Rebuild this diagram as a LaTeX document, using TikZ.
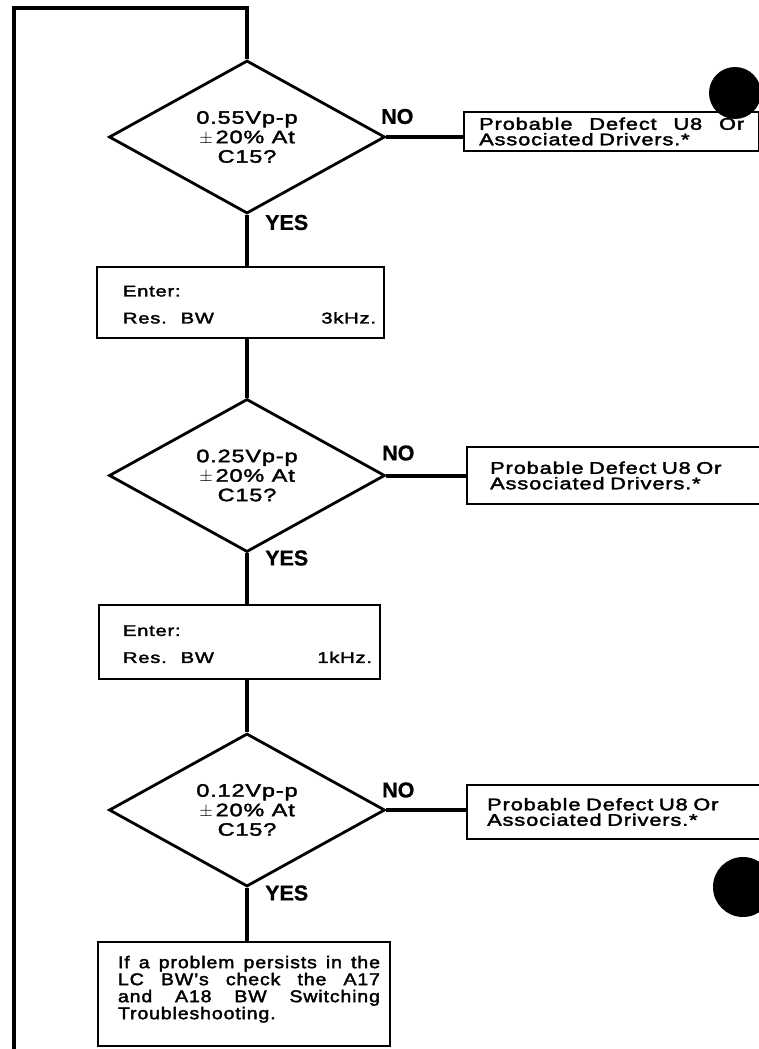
\documentclass[tikz,border=0pt]{standalone}
\usepackage{fontspec}
\setmainfont{Liberation Sans}[FakeStretch=1.3,LetterSpace=5,FakeBold=2.2]
\newfontfamily\finfont{Liberation Sans}[FakeStretch=1.15,LetterSpace=5,FakeBold=2.2]
\newfontfamily\lblfont{Liberation Sans}[FakeBold=0.8]
\usetikzlibrary{shapes.geometric}
\newcommand{\just}[2]{\hbox to #1{#2}}
\begin{document}
\begin{tikzpicture}[x=1pt,y=-1pt,
  flow/.style={line width=3.2pt},
  nolink/.style={line width=4pt},
  dec/.style={draw, diamond, line width=2.8pt, minimum width=276pt, minimum height=149pt,
    inner sep=0pt, align=center, font=\fontsize{18}{19.5}\selectfont},
  stepbox/.style={draw, rectangle, line width=2.4pt, inner sep=0pt, align=left,
    font=\fontsize{15.5}{17}\selectfont},
  outbox/.style={draw, rectangle, line width=2.4pt, anchor=west, align=left, inner ysep=0pt,
    font=\fontsize{16.8}{15.5}\selectfont},
  tag/.style={anchor=west, inner sep=0pt, font=\lblfont\bfseries\fontsize{21.5}{21.5}\selectfont},
  hole/.style={fill=black}
]
\useasboundingbox (0,0) rectangle (758,1049);
\fill[white] (0,0) rectangle (758,1049);

% decisions
\node[dec] (d1) at (247,137) {0.55Vp-p\\$\pm$\,20\% At\\C15?};
\node[dec] (d2) at (247,475.5) {0.25Vp-p\\$\pm$\,20\% At\\C15?};
\node[dec] (d3) at (247,810) {0.12Vp-p\\$\pm$\,20\% At\\C15?};

% steps
\node[stepbox, minimum width=287pt, minimum height=71pt, text width=271pt] (e1) at (240.5,302.5)
  {\hspace*{18pt}\rule{0pt}{15pt}Enter:\\[10pt]\hspace*{18pt}Res.\hspace{14pt}BW\hfill 3kHz.};
\node[stepbox, minimum width=281pt, minimum height=74pt, text width=265pt] (e2) at (239.5,642)
  {\hspace*{16pt}\rule{0pt}{15pt}Enter:\\[10pt]\hspace*{16pt}Res.\hspace{14pt}BW\hfill 1kHz.};
\node[stepbox, minimum width=292pt, minimum height=104pt, text width=272pt,
  font=\finfont\fontsize{17}{17}\selectfont] (fin) at (244,994)
  {\hspace*{10pt}\just{262pt}{If\hfill a\hfill problem\hfill persists\hfill in\hfill the}\\
   \hspace*{10pt}\just{262pt}{LC\hfill BW’s\hfill check\hfill the\hfill A17}\\
   \hspace*{10pt}\just{262pt}{and\hfill A18\hfill BW\hfill Switching}\\
   \hspace*{10pt}Troubleshooting.\rule[-13pt]{0pt}{13pt}};

% outcomes
\node[outbox, text width=265pt, inner xsep=15pt, minimum height=39pt] (r1) at (463,131.5)
  {\just{265pt}{Probable\hfill Defect\hfill U8\hfill Or}\\Associated Drivers.*};
\node[outbox, text width=254pt, inner xsep=23pt, minimum height=57pt] (r2) at (466,475.5)
  {Probable Defect U8 Or\\Associated Drivers.*};
\node[outbox, text width=254pt, inner xsep=20pt, minimum height=54pt] (r3) at (466,812)
  {Probable Defect U8 Or\\Associated Drivers.*};

% labels
\node[tag] (no1) at (381,116.5) {NO};
\node[tag] (no2) at (382,453) {NO};
\node[tag] (no3) at (382,790) {NO};
\node[tag] (yes1) at (265,222.5) {YES};
\node[tag] (yes2) at (265,558) {YES};
\node[tag] (yes3) at (265,893) {YES};

% connectors
\coordinate (lt) at (14,8);
\coordinate (lb) at (14,1052);
\draw[flow] (lb) -- (lt) -| (d1.north);
\draw[flow] (d1.south) -- (d1.south |- e1.north);
\draw[flow] (d1.south |- e1.south) -- (d2.north);
\draw[flow] (d2.south) -- (d2.south |- e2.north);
\draw[flow] (d2.south |- e2.south) -- (d3.north);
\draw[flow] (d3.south) -- (d3.south |- fin.north);
\draw[nolink] (d1.east) -- (d1.east -| r1.west);
\draw[nolink] (d2.east) -- (d2.east -| r2.west);
\draw[nolink] (d3.east) -- (d3.east -| r3.west);

% binder holes
\fill[hole] (735,93) circle[radius=26];
\fill[hole] (743,887) circle[radius=30];
\end{tikzpicture}
\end{document}
